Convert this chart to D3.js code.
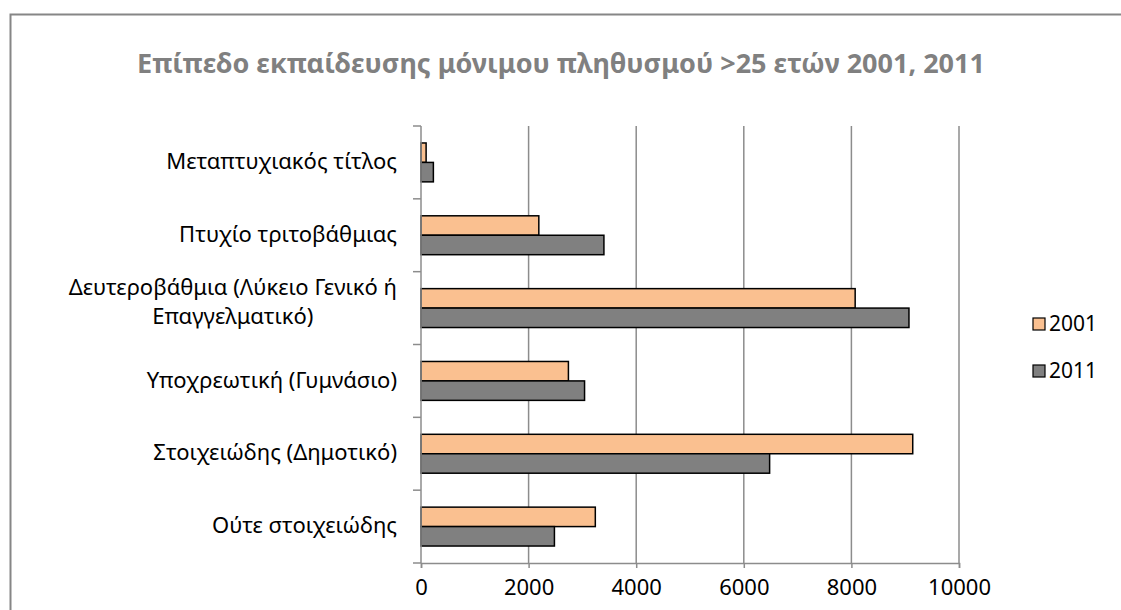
<!DOCTYPE html>
<html>
<head>
<meta charset="utf-8">
<script src="https://cdn.jsdelivr.net/npm/d3@7"></script>
<style>
  body { margin: 0; background: #fff; }
  svg { display: block; font-family: "Noto Sans", sans-serif; }
</style>
</head>
<body>
<script>
// categories top to bottom
var categories = [
    "Μεταπτυχιακός τίτλος",
    "Πτυχίο τριτοβάθμιας",
    "Δευτεροβάθμια (Λύκειο Γενικό ή|Επαγγελματικό)",
    "Υποχρεωτική (Γυμνάσιο)",
    "Στοιχειώδης (Δημοτικό)",
    "Ούτε στοιχειώδης"
];
var seriesNames = ["2001", "2011"];
var values2001 = [95, 2190, 8070, 2740, 9140, 3240];
var values2011 = [230, 3400, 9070, 3040, 6480, 2480];
var xTicks = [0, 2000, 4000, 6000, 8000, 10000];
var colors = ["#fac090", "#808080"];

var width = 1121, height = 610;
var svg = d3.select("body").append("svg")
    .attr("width", width)
    .attr("height", height);

// outer chart border (cut off at right and bottom)
svg.append("rect")
    .attr("x", 10.5).attr("y", 14.5)
    .attr("width", 1200).attr("height", 700)
    .attr("fill", "none")
    .attr("stroke", "#868686")
    .attr("stroke-width", 2);

svg.append("text")
    .attr("x", 561).attr("y", 73)
    .attr("text-anchor", "middle")
    .attr("font-size", 27)
    .attr("font-weight", "bold")
    .attr("fill", "#808080")
    .text("Επίπεδο εκπαίδευσης μόνιμου πληθυσμού >25 ετών 2001, 2011");

var x = d3.scaleLinear().domain([0, 10000]).range([421, 959]);
var y = d3.scaleBand().domain(categories).range([126, 563])
    .paddingInner(0.466).paddingOuter(0.233);
var step = y.step();
var y1 = d3.scaleBand().domain(seriesNames).range([0, y.bandwidth()]);

// gridlines
svg.append("g").selectAll("line")
    .data(xTicks.slice(1))
    .enter().append("line")
    .attr("x1", function (d) { return x(d); })
    .attr("x2", function (d) { return x(d); })
    .attr("y1", 126).attr("y2", 563)
    .attr("stroke", "#8c8c8c")
    .attr("stroke-width", 1.5);

// bars
var rows = categories.map(function (c, i) {
    return { cat: c, vals: [values2001[i], values2011[i]] };
});
var groups = svg.append("g").selectAll("g")
    .data(rows)
    .enter().append("g")
    .attr("transform", function (d) { return "translate(0," + y(d.cat) + ")"; });
groups.selectAll("rect")
    .data(function (d) { return d.vals.map(function (v, j) { return { s: seriesNames[j], v: v, j: j }; }); })
    .enter().append("rect")
    .attr("x", x(0))
    .attr("y", function (d) { return y1(d.s); })
    .attr("width", function (d) { return x(d.v) - x(0); })
    .attr("height", y1.bandwidth())
    .attr("fill", function (d) { return colors[d.j]; })
    .attr("stroke", "#000")
    .attr("stroke-width", 1.5);

// x axis
var xAxis = svg.append("g")
    .attr("transform", "translate(0,563)")
    .call(d3.axisBottom(x).tickValues(xTicks).tickSize(5).tickPadding(11).tickFormat(d3.format("d")));
xAxis.selectAll("line").attr("stroke", "#8c8c8c").attr("stroke-width", 1.5);
xAxis.select(".domain").attr("stroke", "#8c8c8c").attr("stroke-width", 1.5);
xAxis.selectAll("text").attr("font-size", 22).attr("fill", "#000")
    .attr("font-family", "Noto Sans");

// y axis with tick marks at band boundaries
var yAxisG = svg.append("g");
yAxisG.append("line")
    .attr("x1", x(0)).attr("x2", x(0))
    .attr("y1", 126).attr("y2", 563)
    .attr("stroke", "#8c8c8c").attr("stroke-width", 1.5);
yAxisG.selectAll("line.tk")
    .data(d3.range(categories.length + 1))
    .enter().append("line")
    .attr("class", "tk")
    .attr("x1", x(0) - 8).attr("x2", x(0))
    .attr("y1", function (i) { return 126 + i * step; })
    .attr("y2", function (i) { return 126 + i * step; })
    .attr("stroke", "#8c8c8c").attr("stroke-width", 1.5);

// category labels
var labels = svg.append("g").selectAll("text")
    .data(categories)
    .enter().append("text")
    .attr("font-size", 22)
    .attr("fill", "#000")
    .attr("text-anchor", "middle")
    .each(function (d) {
        var lines = d.split("|");
        var t = d3.select(this);
        var cy = y(d) + y.bandwidth() / 2;
        var lh = 29;
        var shift = lines.length > 1 ? -6 : -1;
        lines.forEach(function (ln, k) {
            t.append("tspan")
                .attr("x", 0)
                .attr("y", cy + (k - (lines.length - 1) / 2) * lh + shift)
                .attr("dy", "0.35em")
                .text(ln);
        });
    });
// right-align the block while centring its lines
labels.each(function () {
    var t = d3.select(this);
    var w = this.getBBox().width;
    t.selectAll("tspan").attr("x", 397 - w / 2);
});

// legend
var legend = svg.append("g").selectAll("g")
    .data(seriesNames)
    .enter().append("g")
    .attr("transform", function (d, i) { return "translate(1033," + (318 + i * 47) + ")"; });
legend.append("rect")
    .attr("width", 12).attr("height", 12)
    .attr("fill", function (d, i) { return colors[i]; })
    .attr("stroke", "#000").attr("stroke-width", 1.2);
legend.append("text")
    .attr("x", 16).attr("y", 6).attr("dy", "0.35em")
    .attr("font-size", 21)
    .text(function (d) { return d; });
</script>
</body>
</html>
